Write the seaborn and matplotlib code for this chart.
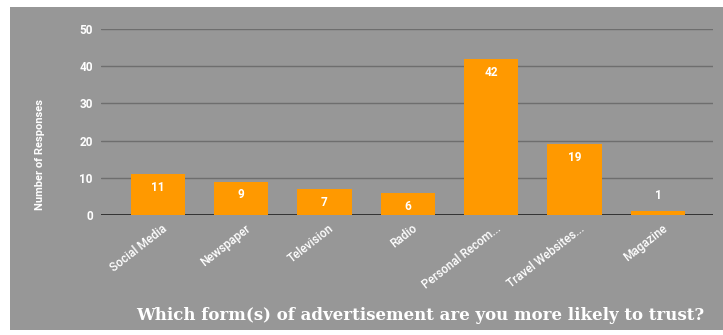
import matplotlib
matplotlib.use("Agg")
import matplotlib.pyplot as plt
import matplotlib.patches as mpatches
import matplotlib.transforms as mtrans
import seaborn as sns
import pandas as pd

categories = ["Social Media", "Newspaper", "Television", "Radio",
              "Personal Recom...", "Travel Websites...", "Magazine"]
responses = [11, 9, 7, 6, 42, 19, 1]
y_ticks = [0, 10, 20, 30, 40, 50]

df = pd.DataFrame({"category": categories, "responses": responses})

sns.set_theme(style="white")
plt.rcParams['font.family'] = ['Roboto', 'DejaVu Sans']

BG = "#979797"
ORANGE = "#FF9900"

fig = plt.figure(figsize=(7.23, 3.35), dpi=100)
fig.patch.set_facecolor("white")
fig.patches.append(mpatches.Rectangle((10/723, 1-330/335), 1-10/723, (330-7)/335,
                                      transform=fig.transFigure, facecolor=BG,
                                      edgecolor="none", zorder=-5))

ax = fig.add_axes([101/723, 1-215/335, (713-101)/723, (215-29)/335])
ax.set_zorder(2)
ax.patch.set_alpha(0)

sns.barplot(data=df, x="category", y="responses", color=ORANGE, width=0.65,
            saturation=1, ax=ax, zorder=3, edgecolor="none", linewidth=0)

ax.set_ylim(0, 50)
ax.set_xlim(-0.68, 6.66)
ax.set_yticks(y_ticks)
for t in y_ticks[1:]:
    ax.axhline(t, color="#6e6e6e", lw=1.0, zorder=1)
ax.axhline(0, color="#222222", lw=1.2, zorder=2)

for s in ax.spines.values():
    s.set_visible(False)

ax.tick_params(axis="both", length=0)
ax.set_yticklabels([str(t) for t in y_ticks], color="white", fontsize=8.5,
                   fontweight="bold")
ax.tick_params(axis="y", pad=6)
ax.set_xticks(range(len(categories)))
ax.set_xticklabels(categories, rotation=38, ha="right", rotation_mode="anchor",
                   color="white", fontsize=8.5, fontweight="medium")
ax.tick_params(axis="x", pad=5)
off = mtrans.ScaledTranslation(3/72, 0, fig.dpi_scale_trans)
for lab in ax.get_xticklabels():
    lab.set_transform(lab.get_transform() + off)

ax.set_xlabel("")
ax.set_ylabel("")

for i, v in enumerate(responses):
    if v >= 3:
        ax.annotate(str(v), (i, v), xytext=(0, -5), textcoords="offset points",
                    ha="center", va="top", color="white", fontsize=8.5,
                    fontweight="bold", zorder=5)
    else:
        ax.annotate(str(v), (i, v), xytext=(0, 7), textcoords="offset points",
                    ha="center", va="bottom", color="white", fontsize=8.5,
                    fontweight="bold", zorder=5)

fig.text(40/723, 1-155/335, "Number of Responses", rotation=90, ha="center",
         va="center", color="white", fontsize=8, fontweight="bold",
         family=["Roboto", "DejaVu Sans"])

fig.text(420/723, 1-316/335,
         "Which form(s) of advertisement are you more likely to trust?",
         ha="center", va="center", color="white", fontsize=12.0,
         fontweight="bold", family=["DejaVu Serif"])

fig.savefig("out.png", dpi=100)
